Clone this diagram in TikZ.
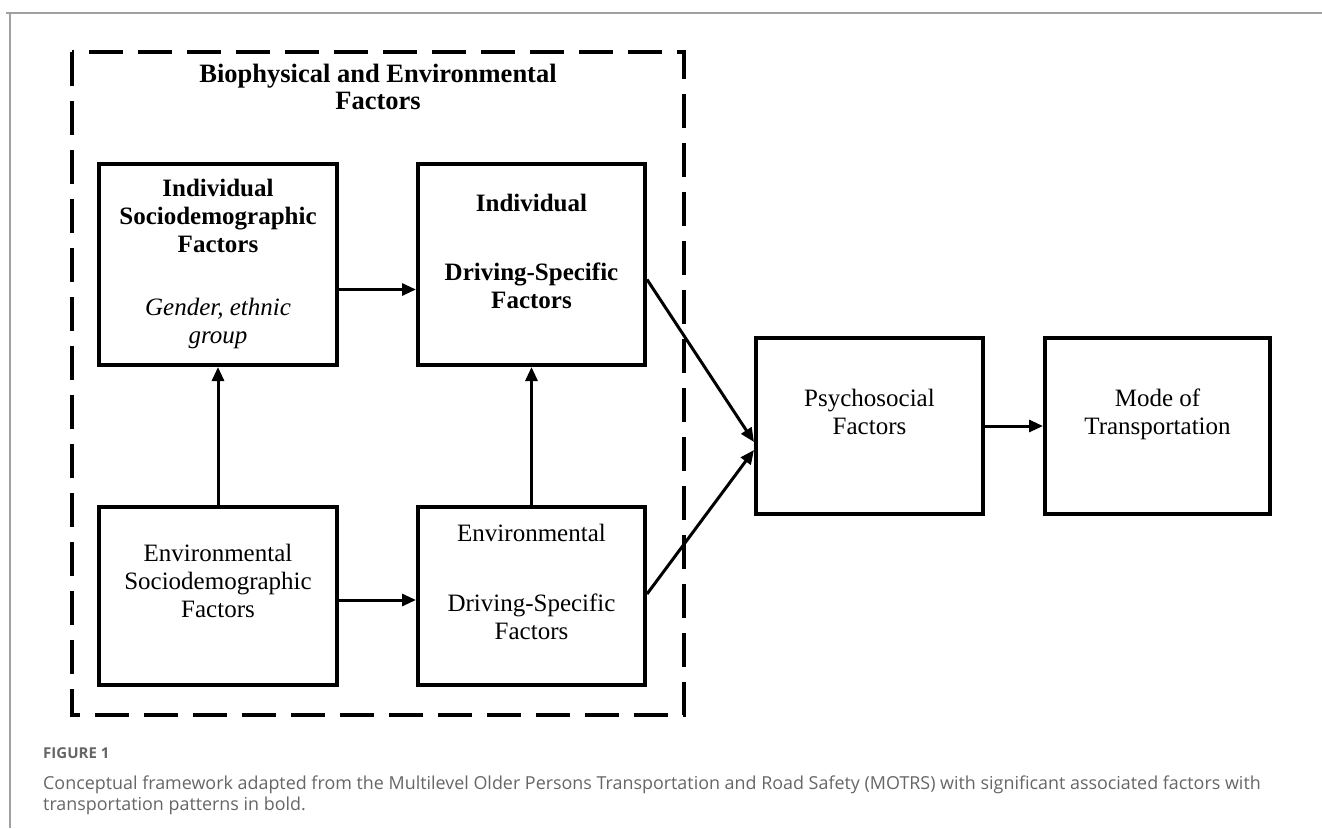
\documentclass[tikz,border=0pt]{standalone}
\usepackage{fontspec}
\setmainfont{Liberation Serif}
\newfontfamily\capfont{Open Sans}
\usetikzlibrary{arrows.meta}
\definecolor{capgray}{HTML}{666666}
\definecolor{framegray}{HTML}{A0A0A0}
\tikzset{
  box/.style={draw,line width=4pt,anchor=north west,inner sep=0pt},
  txt/.style={anchor=north,align=center,inner sep=0pt,font=\fontsize{25}{28}\selectfont},
  boldtxt/.style={txt,font=\bfseries\fontsize{25}{28}\selectfont},
  arr/.style={line width=3pt,-{Triangle[length=14pt,width=12pt]}},
  captxt/.style={anchor=base west,inner sep=0pt,text=capgray,font=\capfont\fontsize{17.9}{21}\selectfont}
}
\begin{document}
\begin{tikzpicture}[x=1pt,y=-1pt]
\useasboundingbox (0,0) rectangle (1322,828);
% page frame
\draw[framegray,line width=1.5pt] (6,13) -- (1322,13);
\draw[framegray,line width=1.5pt] (10,13) -- (10,828);
% biophysical frame
\draw[line width=4pt,dash pattern=on 34pt off 15pt] (72,52) rectangle (684,715);
\node[txt,font=\bfseries\fontsize{26.5}{27}\selectfont] (biotitle) at (378,64) {Biophysical and Environmental\\Factors};
% boxes
\node[box,minimum width=238pt,minimum height=201pt] (indsoc) at (97,162) {};
\node[box,minimum width=227pt,minimum height=201pt] (inddrv) at (416,162) {};
\node[box,minimum width=238pt,minimum height=178pt] (envsoc) at (97,505) {};
\node[box,minimum width=227pt,minimum height=178pt] (envdrv) at (416,505) {};
\node[box,minimum width=227pt,minimum height=176pt] (psy) at (754,336) {};
\node[box,minimum width=225pt,minimum height=176pt] (mode) at (1043,336) {};
% labels
\node[boldtxt] (indsoclbl) at (indsoc.north |- 0,179) {Individual\\Sociodemographic\\Factors};
\node[txt,font=\itshape\fontsize{25}{28}\selectfont] (indsocex) at (indsoc.north |- 0,298) {Gender, ethnic\\group};
\node[boldtxt] (inddrvlbl) at (inddrv.north |- 0,194) {Individual\\[41pt]Driving-Specific\\Factors};
\node[txt] (envsoclbl) at (envsoc.north |- 0,544) {Environmental\\Sociodemographic\\Factors};
\node[txt] (envdrvlbl) at (envdrv.north |- 0,524) {Environmental\\[42pt]Driving-Specific\\Factors};
\node[txt] (psylbl) at (psy.north |- 0,389) {Psychosocial\\Factors};
\node[txt] (modelbl) at (mode.north |- 0,389) {Mode of\\Transportation};
% arrows
\draw[arr] (envsoc) -- (indsoc);
\draw[arr] (envdrv) -- (inddrv);
\draw[arr] ([yshift=-25pt]indsoc.east) -- ([yshift=-25pt]indsoc.east -| inddrv.west);
\draw[arr] ([yshift=-4pt]envsoc.east) -- ([yshift=-4pt]envsoc.east -| envdrv.west);
\draw[arr] ([yshift=-15pt]inddrv.east) -- ([yshift=-16pt]psy.west);
\draw[arr] ([yshift=2pt]envdrv.east) -- ([yshift=-24pt]psy.west);
\draw[arr] (psy) -- (mode);
% caption
\node[captxt,font=\capfont\bfseries\fontsize{15}{17}\selectfont] (figlbl) at (43,758) {FIGURE 1};
\node[captxt] (capline1) at (43,789) {Conceptual framework adapted from the Multilevel Older Persons Transportation and Road Safety (MOTRS) with significant associated factors with};
\node[captxt] (capline2) at (43,810) {transportation patterns in bold.};
\end{tikzpicture}
\end{document}
